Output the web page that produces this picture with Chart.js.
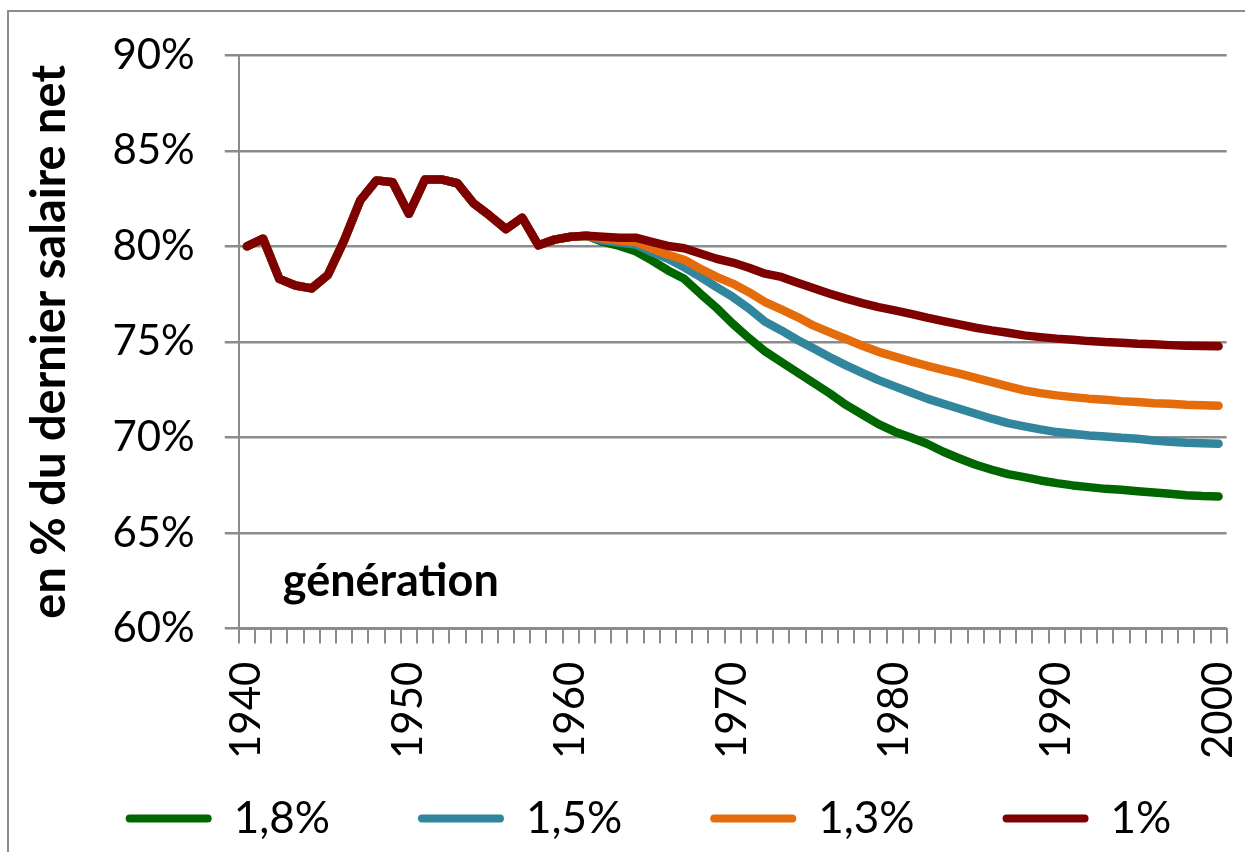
<!DOCTYPE html>
<html>
<head>
<meta charset="utf-8">
<script src="https://cdn.jsdelivr.net/npm/chart.js@4.4.1/dist/chart.umd.min.js"></script>
<style>
html, body { margin: 0; padding: 0; background: #fff; overflow: hidden; }
#frame { position: absolute; left: 7px; top: 10px; width: 1240px; height: 846px; border: 2px solid #8c8c8c; box-sizing: border-box; }
#chart { position: absolute; left: 0; top: 0; }
</style>
</head>
<body>
<div id="frame"></div>
<canvas id="chart" width="1245" height="852"></canvas>
<script>
'use strict';

let years = [
    '1940', '1941', '1942', '1943', '1944', '1945', '1946', '1947', '1948', '1949',
    '1950', '1951', '1952', '1953', '1954', '1955', '1956', '1957', '1958', '1959',
    '1960', '1961', '1962', '1963', '1964', '1965', '1966', '1967', '1968', '1969',
    '1970', '1971', '1972', '1973', '1974', '1975', '1976', '1977', '1978', '1979',
    '1980', '1981', '1982', '1983', '1984', '1985', '1986', '1987', '1988', '1989',
    '1990', '1991', '1992', '1993', '1994', '1995', '1996', '1997', '1998', '1999',
    '2000'
];

// 1940-1961, same for all four series
let history = [80.0, 80.4, 78.3, 77.95, 77.8, 78.5, 80.3, 82.4, 83.45, 83.35,
    81.7, 83.5, 83.5, 83.3, 82.25, 81.6, 80.9, 81.5, 80.05, 80.35,
    80.5, 80.55];

// 1962-2000
let green18 = [80.23, 80.02, 79.74, 79.27, 78.74, 78.3, 77.52, 76.78, 75.95, 75.2,
    74.5, 73.95, 73.4, 72.85, 72.3, 71.7, 71.2, 70.7, 70.3, 70.0,
    69.67, 69.25, 68.9, 68.57, 68.31, 68.08, 67.92, 67.75, 67.61, 67.49,
    67.4, 67.31, 67.26, 67.19, 67.12, 67.05, 66.98, 66.93, 66.91];
let blue15 = [80.3, 80.2, 80.1, 79.7, 79.35, 78.9, 78.4, 77.87, 77.35, 76.75,
    76.05, 75.6, 75.1, 74.65, 74.2, 73.77, 73.38, 73.0, 72.67, 72.35,
    72.03, 71.76, 71.5, 71.24, 70.98, 70.75, 70.58, 70.42, 70.28, 70.19,
    70.1, 70.05, 69.98, 69.93, 69.84, 69.77, 69.72, 69.69, 69.67];
let orange13 = [80.4, 80.3, 80.23, 79.88, 79.56, 79.3, 78.83, 78.4, 78.05, 77.6,
    77.08, 76.7, 76.3, 75.85, 75.5, 75.15, 74.8, 74.48, 74.23, 73.98,
    73.75, 73.54, 73.34, 73.12, 72.9, 72.67, 72.46, 72.32, 72.2, 72.11,
    72.03, 71.97, 71.9, 71.85, 71.79, 71.76, 71.71, 71.68, 71.66];
let red10 = [80.5, 80.45, 80.45, 80.23, 80.02, 79.9, 79.62, 79.35, 79.15, 78.88,
    78.57, 78.4, 78.1, 77.8, 77.52, 77.26, 77.03, 76.82, 76.65, 76.47,
    76.27, 76.09, 75.92, 75.74, 75.6, 75.48, 75.34, 75.25, 75.17, 75.11,
    75.04, 74.99, 74.96, 74.9, 74.87, 74.83, 74.8, 74.78, 74.77];

let seriesNames = ['1,8%', '1,5%', '1,3%', '1%'];
let seriesColors = ['#006600', '#31859c', '#e46c0a', '#7f0000'];
let yTicks = [60, 65, 70, 75, 80, 85, 90];

let gray = '#8c8c8c';
let fontName = 'Lato';

function makeSet(i, tail) {
    return {
        label: seriesNames[i],
        data: history.concat(tail),
        borderColor: seriesColors[i],
        backgroundColor: seriesColors[i],
        borderWidth: 8.5,
        pointRadius: 0,
        tension: 0,
        borderCapStyle: 'round',
        borderJoinStyle: 'round',
        order: 3 - i
    };
}

// free text inside the plot
let noteText = {
    id: 'noteText',
    afterDraw(chart) {
        let ctx = chart.ctx;
        let area = chart.chartArea;
        ctx.save();
        ctx.font = 'bold 45px ' + fontName;
        ctx.fillStyle = '#000';
        ctx.textBaseline = 'alphabetic';
        ctx.fillText('génération', area.left + 44, area.bottom - 33);
        ctx.restore();
    }
};

// legend row: a little right of centre and close under the year labels
let legendShift = {
    id: 'legendShift',
    afterLayout(chart) {
        let lg = chart.legend;
        lg.top = chart.chartArea.bottom + 80;
        lg.bottom = lg.top + 144;
        lg.height = 144;
        lg.left += 24;
        lg.right += 24;
    }
};

let ctx = document.getElementById('chart').getContext('2d');
new Chart(ctx, {
    type: 'line',
    data: {
        labels: years,
        datasets: [
            makeSet(0, green18),
            makeSet(1, blue15),
            makeSet(2, orange13),
            makeSet(3, red10)
        ]
    },
    options: {
        responsive: false,
        animation: false,
        layout: { padding: { left: 4, right: 0, top: 34, bottom: 25 } },
        plugins: {
            tooltip: { enabled: false },
            legend: {
                position: 'bottom',
                maxHeight: 50,
                labels: {
                    color: '#000',
                    font: { family: fontName, size: 44 },
                    boxWidth: 86,
                    boxHeight: 8,
                    padding: 88,
                    useBorderRadius: true,
                    borderRadius: 4,
                    sort: (a, b) => a.datasetIndex - b.datasetIndex,
                    generateLabels(chart) {
                        let items = Chart.defaults.plugins.legend.labels.generateLabels(chart);
                        items.forEach(it => {
                            it.fillStyle = it.strokeStyle;
                            it.lineWidth = 0;
                            it.borderRadius = 4;
                        });
                        return items;
                    }
                }
            }
        },
        scales: {
            x: {
                offset: true,
                grid: {
                    offset: true,
                    drawOnChartArea: false,
                    drawTicks: true,
                    tickLength: 15,
                    color: gray,
                    lineWidth: 2
                },
                border: { display: true, color: gray, width: 2 },
                ticks: {
                    autoSkip: false,
                    maxRotation: 90,
                    minRotation: 90,
                    padding: 18,
                    color: '#000',
                    font: { family: fontName, size: 42, lineHeight: 0.2 },
                    callback: function (value, index) {
                        let y = years[index];
                        return Number(y) % 10 === 0 ? y : '';
                    }
                }
            },
            y: {
                min: yTicks[0],
                max: yTicks[yTicks.length - 1],
                afterBuildTicks: axis => { axis.ticks = yTicks.map(v => ({ value: v })); },
                grid: {
                    color: gray,
                    lineWidth: 2.5,
                    tickLength: 14
                },
                border: { display: true, color: gray, width: 2 },
                ticks: {
                    padding: 30,
                    color: '#000',
                    font: { family: fontName, size: 42 },
                    callback: v => v + '%'
                },
                title: {
                    display: true,
                    text: 'en % du dernier salaire net',
                    color: '#000',
                    font: { family: fontName, size: 47, weight: 'bold' },
                    padding: { top: 18, bottom: 4 }
                }
            }
        }
    },
    plugins: [noteText, legendShift]
});
</script>
</body>
</html>
